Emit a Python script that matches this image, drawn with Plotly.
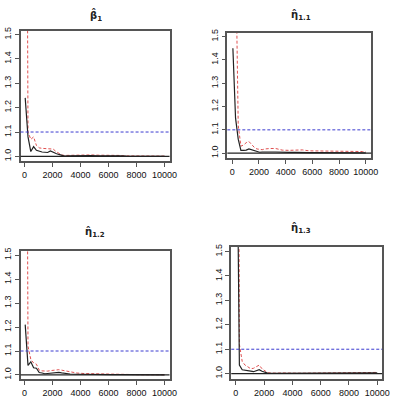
import plotly.graph_objects as go

# ---- data ----
iterations = [50, 250, 450, 650, 850, 1050, 1250, 1450, 1650, 1850, 2050, 2250, 2450,
              2650, 2850, 3250, 3750, 4250, 4750, 5250, 5750, 6250, 6750, 7250, 7750,
              8250, 8750, 9250, 9750, 10000]

beta1_median = [1.24, 1.08, 1.02, 1.04, 1.025, 1.02, 1.018, 1.017, 1.016, 1.022, 1.016, 1.012,
                1.008, 1.003, 1.001, 1.002, 1.003, 1.002, 1.003, 1.002, 1.003, 1.004, 1.002,
                1.001, 1.001, 1.001, 1.0, 1.0, 1.0, 1.0]
beta1_upper = [4.0, 1.10, 1.07, 1.08, 1.045, 1.035, 1.033, 1.032, 1.032, 1.033, 1.03, 1.02,
               1.012, 1.006, 1.004, 1.005, 1.006, 1.005, 1.006, 1.005, 1.005, 1.006, 1.004,
               1.002, 1.002, 1.001, 1.001, 1.001, 1.001, 1.001]

eta11_median = [1.45, 1.15, 1.06, 1.012, 1.012, 1.013, 1.018, 1.015, 1.01, 1.007, 1.004, 1.005,
                1.006, 1.006, 1.005, 1.005, 1.003, 1.003, 1.003, 1.004, 1.002, 1.002, 1.002,
                1.002, 1.003, 1.002, 1.002, 1.002, 1.001, 1.001]
eta11_upper = [5.0, 1.9, 1.12, 1.03, 1.035, 1.045, 1.05, 1.035, 1.025, 1.018, 1.015, 1.015,
               1.018, 1.02, 1.02, 1.02, 1.013, 1.012, 1.012, 1.014, 1.01, 1.01, 1.008, 1.01,
               1.01, 1.008, 1.009, 1.008, 1.007, 1.006]

eta12_median = [1.21, 1.04, 1.055, 1.03, 1.028, 1.01, 1.008, 1.005, 1.006, 1.008, 1.009, 1.01,
                1.011, 1.009, 1.007, 1.004, 1.003, 1.002, 1.002, 1.002, 1.001, 1.001, 1.001,
                1.001, 1.0, 1.0, 1.0, 1.0, 1.0, 1.0]
eta12_upper = [4.0, 1.12, 1.065, 1.05, 1.045, 1.02, 1.017, 1.015, 1.016, 1.018, 1.02, 1.022,
               1.022, 1.02, 1.018, 1.012, 1.008, 1.006, 1.005, 1.004, 1.004, 1.003, 1.002,
               1.002, 1.001, 1.001, 1.001, 1.001, 1.001, 1.001]

eta13_median = [2.2, 1.035, 1.016, 1.013, 1.012, 1.01, 1.008, 1.012, 1.016, 1.01, 1.005, 1.002,
                1.001, 1.001, 1.001, 1.002, 1.003, 1.001, 1.001, 1.001, 1.001, 1.002, 1.003,
                1.003, 1.003, 1.003, 1.003, 1.003, 1.003, 1.003]
eta13_upper = [4.5, 1.12, 1.05, 1.035, 1.028, 1.02, 1.022, 1.03, 1.035, 1.02, 1.01, 1.004,
               1.003, 1.002, 1.002, 1.003, 1.004, 1.002, 1.002, 1.002, 1.002, 1.003, 1.004,
               1.004, 1.004, 1.004, 1.004, 1.004, 1.004, 1.005]

titles = ["β̂<sub>1</sub>", "η̂<sub>1.1</sub>", "η̂<sub>1.2</sub>", "η̂<sub>1.3</sub>"]
x_ticks = [0, 2000, 4000, 6000, 8000, 10000]
y_ticks = [1.0, 1.1, 1.2, 1.3, 1.4, 1.5]
ref_line = 1.0
threshold = 1.1

series = [(beta1_median, beta1_upper), (eta11_median, eta11_upper),
          (eta12_median, eta12_upper), (eta13_median, eta13_upper)]

W, H = 397, 401
# panel boxes in pixels: (left, right, top, bottom)
boxes = [(21, 173, 27, 159), (232, 379, 29, 156), (21, 173, 250, 380), (236, 390, 246, 380)]
xranges = [[-280, 10350], [-366, 10417], [-280, 10350], [-326, 10347]]
yranges = [[0.981, 1.516], [0.979, 1.517], [0.982, 1.518], [0.977, 1.519]]
title_pos = [(98, 12), (307, 12), (97, 231), (307, 227)]

fig = go.Figure()
font = dict(family="Liberation Sans, Arial, sans-serif", size=9, color="#111")
layout = dict(width=W, height=H, margin=dict(l=0, r=0, t=0, b=0),
              paper_bgcolor="white", plot_bgcolor="white", showlegend=False,
              font=font, shapes=[], annotations=[])

for i, ((med, up), (l, r, t, b)) in enumerate(zip(series, boxes)):
    n = "" if i == 0 else str(i + 1)
    xa, ya = "x" + n, "y" + n
    fig.add_trace(go.Scatter(x=iterations, y=up, mode="lines", xaxis=xa, yaxis=ya,
                             line=dict(color="#e05050", width=1, dash="3px,2px")))
    fig.add_trace(go.Scatter(x=iterations, y=med, mode="lines", xaxis=xa, yaxis=ya,
                             line=dict(color="#222", width=1.2)))
    axis_common = dict(showline=True, mirror=True, linecolor="#555", linewidth=1.5,
                       showgrid=False, zeroline=False, ticks="outside", ticklen=4,
                       tickcolor="#555", tickwidth=1, tickfont=font)
    layout["xaxis" + n] = dict(domain=[l / W, r / W], range=xranges[i], anchor=ya,
                               tickvals=x_ticks, tickformat="d", **axis_common)
    layout["yaxis" + n] = dict(domain=[1 - b / H, 1 - t / H], range=yranges[i], anchor=xa,
                               tickvals=y_ticks, tickformat=".1f", tickangle=-90,
                               **axis_common)
    layout["shapes"].append(dict(type="line", xref=xa + " domain", yref=ya, x0=0, x1=1,
                                 y0=ref_line, y1=ref_line,
                                 line=dict(color="#222", width=1.2)))
    layout["shapes"].append(dict(type="line", xref=xa + " domain", yref=ya, x0=0, x1=1,
                                 y0=threshold, y1=threshold,
                                 line=dict(color="#3a3ad0", width=1, dash="3px,2px")))
    tx, ty = title_pos[i]
    layout["annotations"].append(dict(text="<b>" + titles[i] + "</b>", xref="paper",
                                      yref="paper", x=tx / W, y=1 - ty / H, showarrow=False,
                                      xanchor="center", yanchor="middle",
                                      font=dict(family="DejaVu Sans, sans-serif",
                                                size=10, color="#222")))

fig.update_layout(**layout)
fig.write_html("out.html", config={"displayModeBar": False},
               post_script="document.body.style.margin='0px';document.body.style.overflow='hidden';")
